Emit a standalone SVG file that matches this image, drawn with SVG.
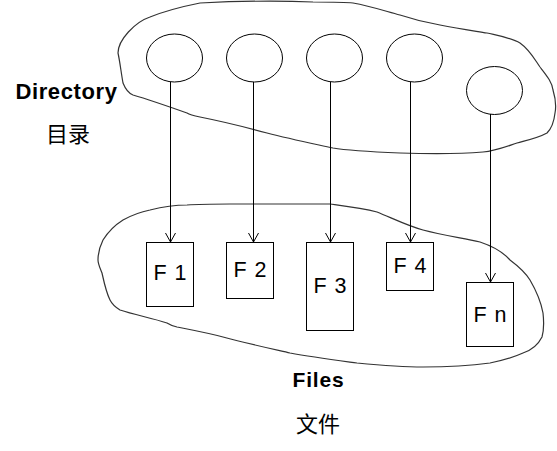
<svg xmlns="http://www.w3.org/2000/svg" width="557" height="451" viewBox="0 0 557 451">
<style>
.blob{fill:none;stroke:#333;stroke-width:1.2}
.ell{fill:#fff;stroke:#000;stroke-width:1}
.box{fill:#fff;stroke:#000;stroke-width:1}
.lbl{font-family:"Liberation Sans",Arial,sans-serif;font-size:21.5px;word-spacing:2px;fill:#000;text-anchor:middle}
.bold{font-family:"Liberation Sans",Arial,sans-serif;font-weight:bold;fill:#000;text-anchor:middle}
.cjk{font-family:"Liberation Serif","Noto Sans CJK SC",serif;font-size:22px;fill:#000;text-anchor:middle}
.conn{stroke:#000;stroke-width:1;fill:none}
</style>
<defs>
<marker id="arr" markerWidth="12" markerHeight="12" refX="10" refY="6" orient="auto" markerUnits="userSpaceOnUse">
<polyline points="1,1 10,6 1,11" fill="none" stroke="#000" stroke-width="1"/>
</marker>
</defs>
<rect width="557" height="451" fill="#fff"/>
<g id="directory-blob">
<path class="blob" d="M118,53 C118,40 135,22 150,17 C170,9 185,6 200,3 C240,1 290,1 313,2 C335,2 345,2 353,3 C370,6 385,11 400,15 C415,20 428,23 440,25 C460,29 475,31 487,33 C500,36 512,38 520,43 C530,50 535,60 540,67 C547,76 552,82 553,90 C556,100 556,108 555,113 C554,122 552,128 547,133 C538,138 528,140 517,143 C505,147 495,151 483,152 C460,154 430,154 400,153 C375,152 350,151 333,148 C310,143 290,139 267,133 C245,127 220,121 200,117 C195,116 190,115 187,113 C170,107 150,100 133,95 C128,93 125,88 123,83 C121,72 120,62 118,53 Z"/>
</g>
<g id="files-blob">
<path class="blob" d="M98,260 C98,252 100,246 103,240 C108,232 115,225 123,220 C132,215 140,212 150,210 C162,207 175,205 187,205 C200,204 215,204 230,204 C265,204 300,204 330,204 C345,206 362,208 377,212 C392,218 408,226 423,230 C442,235 462,238 480,242 C492,246 503,252 510,260 C518,266 525,272 530,280 C537,292 541,302 543,313 C544,322 544,330 542,337 C538,345 532,350 523,353 C512,358 500,361 490,363 C468,366 445,367 423,367 C400,367 378,365 357,363 C335,360 312,357 290,353 C268,348 245,343 223,337 C208,333 192,330 177,327 C173,326 170,325 167,323 C152,318 135,315 120,310 C115,307 112,304 110,300 C106,292 104,282 102,273 C100,268 98,264 98,260 Z"/>
</g>
<g id="d1"><ellipse class="ell" cx="174.5" cy="58" rx="28" ry="24"/></g>
<g id="d2"><ellipse class="ell" cx="254.5" cy="58" rx="28" ry="24"/></g>
<g id="d3"><ellipse class="ell" cx="334.5" cy="58" rx="28" ry="24"/></g>
<g id="d4"><ellipse class="ell" cx="414.5" cy="58" rx="28" ry="24"/></g>
<g id="d5"><ellipse class="ell" cx="494.5" cy="90.5" rx="28" ry="24"/></g>
<g id="connectors">
<line class="conn" x1="170.5" y1="82" x2="170.5" y2="242" marker-end="url(#arr)"/>
<line class="conn" x1="253.5" y1="82" x2="253.5" y2="242" marker-end="url(#arr)"/>
<line class="conn" x1="330.5" y1="82" x2="330.5" y2="242" marker-end="url(#arr)"/>
<line class="conn" x1="410.5" y1="82" x2="410.5" y2="242" marker-end="url(#arr)"/>
<line class="conn" x1="490.5" y1="114" x2="490.5" y2="282" marker-end="url(#arr)"/>
</g>
<g id="f1"><rect class="box" x="146.5" y="242.5" width="47" height="64"/><text class="lbl" x="170" y="280">F 1</text></g>
<g id="f2"><rect class="box" x="226.5" y="242.5" width="47" height="56"/><text class="lbl" x="250" y="277">F 2</text></g>
<g id="f3"><rect class="box" x="306.5" y="242.5" width="47" height="88"/><text class="lbl" x="330" y="293">F 3</text></g>
<g id="f4"><rect class="box" x="386.5" y="242.5" width="47" height="48"/><text class="lbl" x="410" y="273">F 4</text></g>
<g id="fn"><rect class="box" x="466.5" y="282.5" width="47" height="64"/><text class="lbl" x="490" y="322">F n</text></g>
<g id="labels">
<text class="bold" x="66.5" y="99" font-size="22" letter-spacing="0.6">Directory</text>
<text class="cjk" x="68" y="142">目录</text>
<text class="bold" x="318.5" y="387" font-size="21" letter-spacing="0.8">Files</text>
<text class="cjk" x="318" y="432">文件</text>
</g>
</svg>
